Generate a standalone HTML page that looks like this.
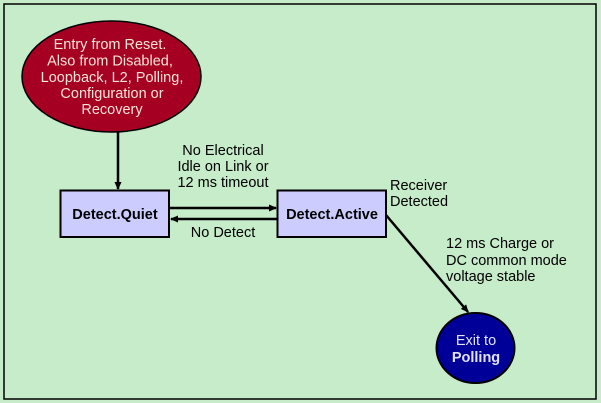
<!DOCTYPE html>
<html><head><meta charset="utf-8"><style>
html,body{margin:0;padding:0;background:#c8ecca;}
svg{display:block;font-family:"Liberation Sans",Arial,sans-serif;}
</style></head><body>
<svg width="601" height="403" viewBox="0 0 601 403" xmlns="http://www.w3.org/2000/svg">
<defs>
<marker id="ah" markerWidth="8" markerHeight="8" refX="7" refY="4" orient="auto" markerUnits="userSpaceOnUse">
<path d="M0,0.5 L8,4 L0,7.5 Z" fill="#000"/>
</marker>
</defs>
<rect x="0" y="0" width="601" height="403" fill="#c8ecca"/>
<rect x="4" y="4" width="592" height="395" fill="#c6ecca" stroke="#000" stroke-width="1.5"/>
<ellipse cx="111.5" cy="76.5" rx="89.5" ry="55.5" fill="#a50021" stroke="#000" stroke-width="1.5"/>
<g fill="#f4e6d8" font-size="14.5" text-anchor="middle">
<text x="110" y="49">Entry from Reset.</text>
<text x="110" y="65.5">Also from Disabled,</text>
<text x="112" y="82">Loopback, L2, Polling,</text>
<text x="112" y="98">Configuration or</text>
<text x="112" y="114">Recovery</text>
</g>
<line x1="118" y1="132" x2="118" y2="189" stroke="#000" stroke-width="2.5" marker-end="url(#ah)"/>
<rect x="60.5" y="190.5" width="108.5" height="46.5" fill="#ccccff" stroke="#000" stroke-width="2"/>
<rect x="277.5" y="190.5" width="108.5" height="46.5" fill="#ccccff" stroke="#000" stroke-width="2"/>
<g font-size="14.5" font-weight="bold" text-anchor="middle" fill="#000">
<text x="115" y="219">Detect.Quiet</text>
<text x="332" y="219">Detect.Active</text>
</g>
<line x1="170" y1="208" x2="276" y2="208" stroke="#000" stroke-width="2.5" marker-end="url(#ah)"/>
<line x1="277" y1="219" x2="171" y2="219" stroke="#000" stroke-width="2.5" marker-end="url(#ah)"/>
<line x1="386" y1="215" x2="468" y2="312" stroke="#000" stroke-width="2.5" marker-end="url(#ah)"/>
<g font-size="14.5" fill="#000">
<text x="223" y="155" text-anchor="middle">No Electrical</text>
<text x="223" y="171" text-anchor="middle">Idle on Link or</text>
<text x="223" y="187" text-anchor="middle">12 ms timeout</text>
<text x="223" y="237" text-anchor="middle">No Detect</text>
<text x="390" y="190">Receiver</text>
<text x="390" y="206">Detected</text>
<text x="446" y="248">12 ms Charge or</text>
<text x="446" y="265">DC common mode</text>
<text x="446" y="281">voltage stable</text>
</g>
<ellipse cx="475.5" cy="348" rx="39" ry="35" fill="#000099" stroke="#000" stroke-width="2"/>
<g font-size="14.5" fill="#e4e4ff" text-anchor="middle">
<text x="476" y="345">Exit to</text>
<text x="476" y="362" font-weight="bold">Polling</text>
</g>
</svg>
</body></html>
